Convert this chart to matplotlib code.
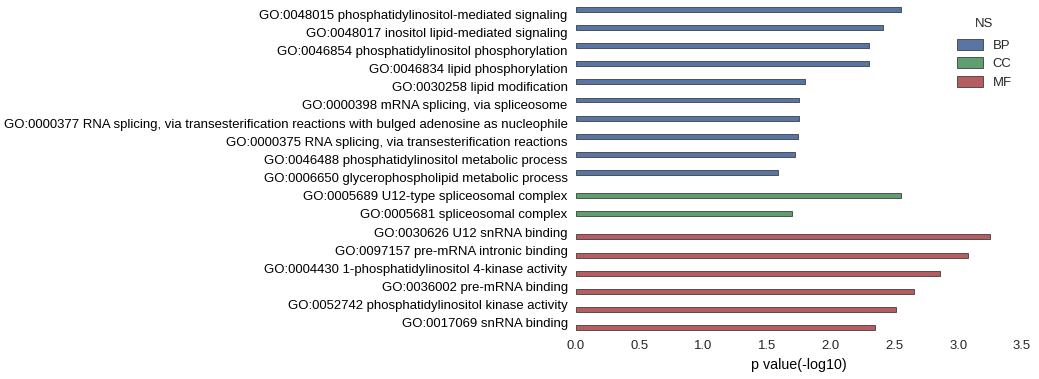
import numpy as np
import matplotlib.pyplot as plt
from matplotlib.patches import Patch

plt.rcParams.update({
    'font.family': ['Liberation Sans', 'DejaVu Sans'],
    'font.size': 9.45,
    'text.color': '#262626',
    'xtick.color': '#262626',
})

# GO terms (top to bottom) with their namespace and -log10 p value
terms = [
    'GO:0048015 phosphatidylinositol-mediated signaling',
    'GO:0048017 inositol lipid-mediated signaling',
    'GO:0046854 phosphatidylinositol phosphorylation',
    'GO:0046834 lipid phosphorylation',
    'GO:0030258 lipid modification',
    'GO:0000398 mRNA splicing, via spliceosome',
    'GO:0000377 RNA splicing, via transesterification reactions with bulged adenosine as nucleophile',
    'GO:0000375 RNA splicing, via transesterification reactions',
    'GO:0046488 phosphatidylinositol metabolic process',
    'GO:0006650 glycerophospholipid metabolic process',
    'GO:0005689 U12-type spliceosomal complex',
    'GO:0005681 spliceosomal complex',
    'GO:0030626 U12 snRNA binding',
    'GO:0097157 pre-mRNA intronic binding',
    'GO:0004430 1-phosphatidylinositol 4-kinase activity',
    'GO:0036002 pre-mRNA binding',
    'GO:0052742 phosphatidylinositol kinase activity',
    'GO:0017069 snRNA binding',
]
ns = ['BP'] * 10 + ['CC'] * 2 + ['MF'] * 6
pvals = [2.55, 2.41, 2.30, 2.30, 1.80, 1.75, 1.75, 1.74, 1.72, 1.585,
         2.55, 1.695,
         3.25, 3.08, 2.86, 2.65, 2.51, 2.35]

hue_order = ['BP', 'CC', 'MF']
# old seaborn "deep" palette, desaturated like barplot does
colors = {'BP': '#5875A3', 'CC': '#5F9E6E', 'MF': '#B55D60'}
edge = '#3d3d3d'

fig = plt.figure(figsize=(10.39, 3.79), dpi=100)
ax = fig.add_axes([0.5544, 0.124, 0.4292, 0.863])

# hue dodge: each row has 3 slots, only one used
w = 0.8 / len(hue_order)
y = np.arange(len(terms))
for i, (v, n) in enumerate(zip(pvals, ns)):
    off = (hue_order.index(n) - 1) * w
    ax.barh(y[i] + off, v, height=w, color=colors[n], edgecolor=edge, linewidth=0.6)

ax.set_yticks(y)
ax.set_yticklabels(terms)
ax.set_ylim(len(terms) - 0.5, -0.5)
ax.set_xlim(0, 3.5)
ax.set_xticks(np.arange(0, 3.51, 0.5))
ax.set_xlabel('p value(-log10)', fontsize=10.3)
ax.tick_params(length=0, pad=6)
for s in ax.spines.values():
    s.set_visible(False)

handles = [Patch(facecolor=colors[k], edgecolor=edge, linewidth=0.6) for k in hue_order]
leg = ax.legend(handles, hue_order, title='NS', loc='upper right', frameon=False,
                bbox_to_anchor=(1.003, 0.995), fontsize=9.45, handlelength=2.0,
                handleheight=0.9, labelspacing=0.42, handletextpad=0.7)
leg.get_title().set_fontsize(9.45)
leg._legend_box.sep = 6

fig.savefig('out.png', dpi=100)
